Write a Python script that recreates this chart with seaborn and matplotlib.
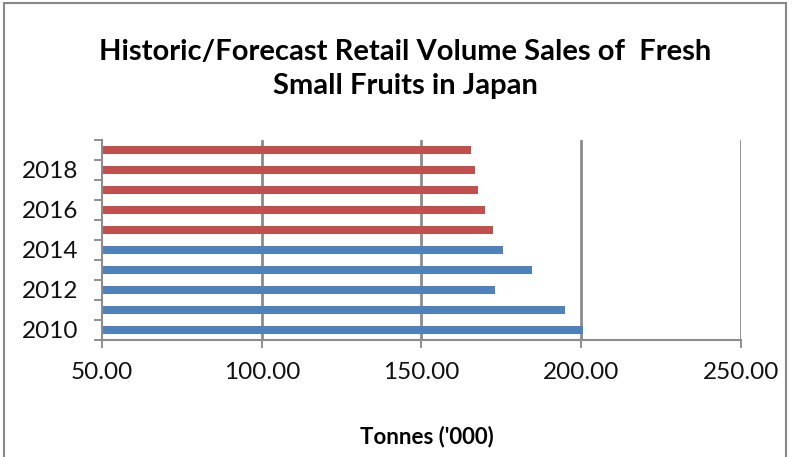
import matplotlib
matplotlib.use("Agg")
import matplotlib.pyplot as plt
from matplotlib.patches import Rectangle
from matplotlib.ticker import FixedLocator
import seaborn as sns
import pandas as pd

years = [2010, 2011, 2012, 2013, 2014, 2015, 2016, 2017, 2018, 2019]
volumes = [200.5, 195.0, 173.0, 184.7, 175.4, 172.3, 169.8, 167.6, 166.6, 165.4]
kinds = ["Historic"] * 5 + ["Forecast"] * 5
palette = {"Historic": "#4F81BD", "Forecast": "#C0504D"}
title = "Historic/Forecast Retail Volume Sales of  Fresh\nSmall Fruits in Japan"
xlabel = "Tonnes ('000)"
xticks = [50, 100, 150, 200, 250]

df = pd.DataFrame({"year": [str(y) for y in years], "volume": volumes, "kind": kinds})

sns.set_theme(style="white")
plt.rcParams["font.family"] = ["Lato", "DejaVu Sans"]

fig = plt.figure(figsize=(7.93, 4.57), dpi=100)
ax = fig.add_axes([102 / 793, 1 - 340 / 457, (741 - 102) / 793, 200 / 457])

order = [str(y) for y in years[::-1]]
sns.barplot(data=df, x="volume", y="year", hue="kind", palette=palette,
            order=order, orient="h", dodge=False, width=0.4, ax=ax,
            legend=False, saturation=1, edgecolor="none")

ax.set_xlim(50, 250)
ax.set_ylim(len(order) - 0.5, -0.5)
ax.set_xticks(xticks)
ax.set_xticklabels([f"{v:.2f}" for v in xticks], fontsize=17.5, color="#111111")
ax.tick_params(axis="x", length=6, width=1.3, color="#888888", pad=10, direction="out", bottom=True)

labels = [lbl if int(lbl) % 2 == 0 else "" for lbl in order]
ax.set_yticks(range(len(order)))
ax.set_yticklabels(labels, fontsize=17.5, color="#111111")
ax.tick_params(axis="y", which="major", length=0, pad=17)
ax.yaxis.set_minor_locator(FixedLocator([i - 0.5 for i in range(len(order) + 1)]))
ax.tick_params(axis="y", which="minor", length=6, width=1.3, color="#888888", left=True, direction="out")

for v in xticks[1:]:
    ax.axvline(v, color="#8C8C8C", lw=2, zorder=0)

for s in ["top", "right"]:
    ax.spines[s].set_visible(False)
for s in ["left", "bottom"]:
    ax.spines[s].set_color("#8C8C8C")
    ax.spines[s].set_linewidth(1.5)

ax.set_ylabel("")
ax.set_xlabel("")
fig.text(427 / 793, 1 - 437 / 457, xlabel, ha="center", va="center",
         fontsize=16, fontweight="bold", color="#000000")
fig.text(405 / 793, 1 - 69 / 457, title, ha="center", va="center",
         fontsize=21, fontweight="bold", color="#000000", linespacing=1.35)

fig.patches.append(Rectangle((4 / 793, -0.1), 782 / 793, 1.1 - 3 / 457,
                             transform=fig.transFigure, fill=False,
                             edgecolor="#888888", lw=1.5))

fig.savefig("out.png", dpi=100, facecolor="white")
